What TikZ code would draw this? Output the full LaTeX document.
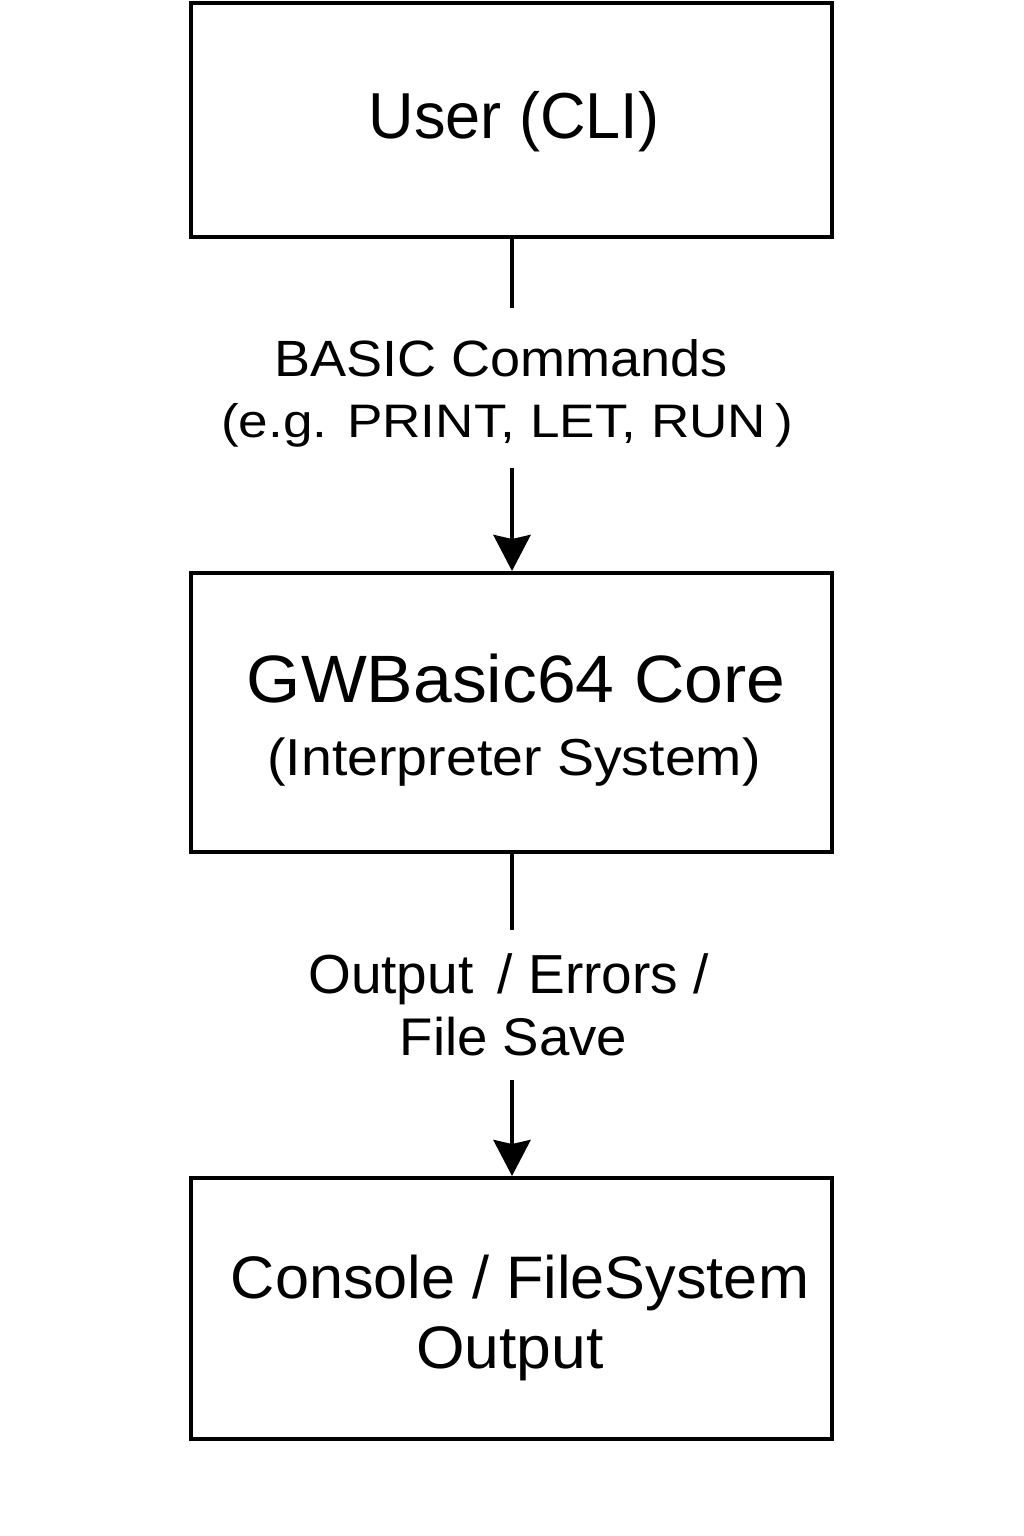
\documentclass[tikz,border=0pt]{standalone}
\usepackage{fontspec}
\usepackage{graphicx}
\setmainfont{Liberation Sans}
\usetikzlibrary{arrows.meta}
\newcommand{\txt}[3]{\scalebox{#2}[1]{\fontsize{#1}{#1}\selectfont #3}}
\begin{document}
\begin{tikzpicture}[x=1pt,y=-1pt,
  box/.style={draw=black,line width=4pt,minimum width=641pt,inner sep=0pt},
  lab/.style={anchor=base,inner sep=0pt},
  conn/.style={line width=4.5pt,-{Stealth[length=36pt,width=37pt,inset=4pt]}},
  seg/.style={line width=4.5pt}]
\useasboundingbox (0,0) rectangle (1024,1536);
\node[box,minimum height=234pt] (user) at (511.5,120) {};
\node[box,minimum height=279pt] (core) at (511.5,712.5) {};
\node[box,minimum height=261pt] (out) at (511.5,1308.5) {};
\node[lab] (t1) at (514,139) {\txt{65}{0.97}{User (CLI)}};
\node[lab] (t2) at (516,702) {\txt{67}{1.04}{GWBasic64 Core}};
\node[lab] (t3) at (514,775) {\txt{52}{1.067}{(Interpreter System)}};
\node[lab] (t4) at (520,1298) {\txt{60}{1.02}{Console / FileSystem}};
\node[lab] (t5) at (510,1368) {\txt{60}{1.04}{Output}};
\node[lab] (l1) at (501,376) {\txt{51}{1.06}{BASIC Commands}};
\node[lab] (l2) at (507,437) {\txt{47}{1.13}{(e.g. PRINT, LET, RUN\,)}};
\node[lab] (l3) at (508.5,993) {\txt{55}{1.0}{Output \,/ Errors /}};
\node[lab] (l4) at (513.5,1055) {\txt{53}{1.03}{File Save}};
\coordinate (a1) at (512,308);
\coordinate (a2) at (512,468);
\coordinate (b1) at (512,930);
\coordinate (b2) at (512,1080);
\draw[seg] (user.south -| a1) -- (a1);
\draw[conn] (a2) -- (core.north -| a2);
\draw[seg] (core.south -| b1) -- (b1);
\draw[conn] (b2) -- (out.north -| b2);
\end{tikzpicture}
\end{document}
